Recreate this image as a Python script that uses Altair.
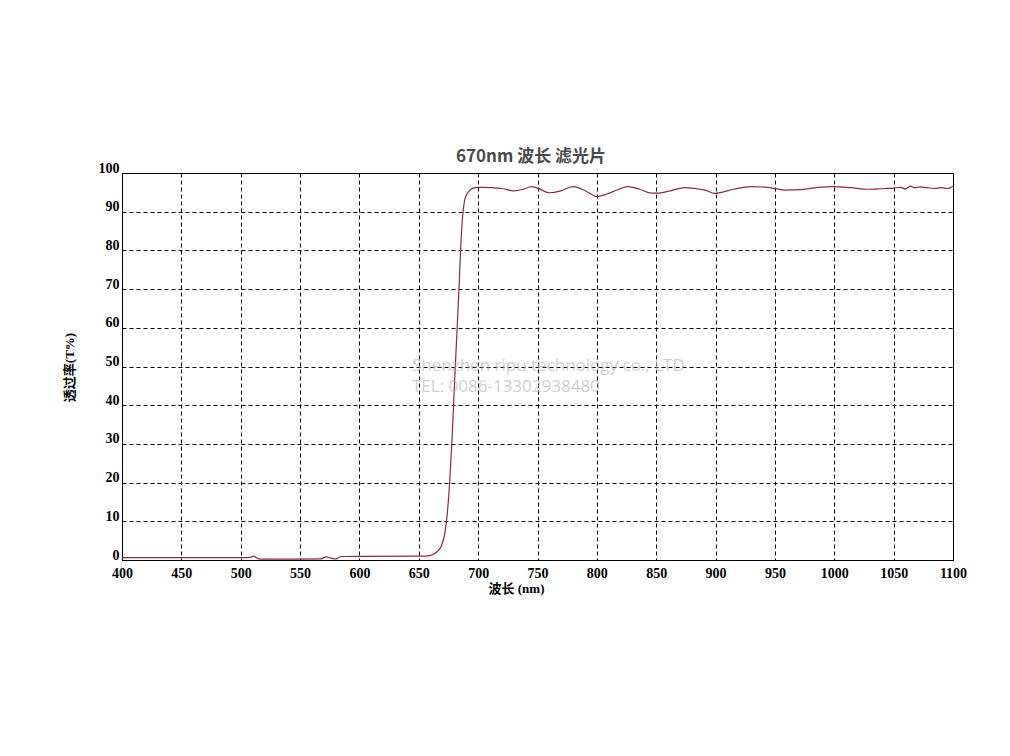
import altair as alt
import pandas as pd

# ---- data ----
wavelength = [400, 450, 500, 508, 511, 515, 520, 550, 568, 572, 576, 580, 585, 600,
              650, 655, 660, 663, 666, 669, 672, 674, 676, 678, 680, 682, 684, 685.5,
              687, 688.5, 690, 692, 694, 696, 700, 705, 712, 720, 730, 738, 745, 750,
              760, 769, 780, 791, 800, 808, 817, 826, 836, 846, 850, 862, 874, 887,
              892, 899, 915, 930, 944, 958, 972, 986, 1000, 1014, 1028, 1042, 1050,
              1056, 1060, 1064, 1068, 1072, 1078, 1084, 1090, 1095, 1097, 1100]
transmittance = [0.6, 0.6, 0.6, 0.7, 1.0, 0.3, 0.25, 0.25, 0.3, 0.8, 0.5, 0.3, 0.9, 0.95,
                 1.0, 1.0, 1.2, 1.6, 2.3, 3.6, 7.0, 12.0, 20.0, 31.0, 45.0, 58.0, 71.0, 82.0,
                 89.0, 92.8, 94.2, 95.2, 95.8, 96.1, 96.3, 96.3, 96.2, 96.0, 95.4, 95.8, 96.5, 96.1,
                 94.9, 95.3, 96.5, 95.3, 93.9, 94.5, 95.6, 96.5, 95.8, 94.8, 94.8, 95.4, 96.2, 95.8,
                 95.5, 94.75, 95.8, 96.5, 96.3, 95.6, 95.7, 96.3, 96.5, 96.2, 95.8, 96.0, 96.1,
                 96.3, 95.9, 96.6, 96.2, 96.4, 96.2, 96.0, 96.2, 96.0, 96.1, 96.6]
x_ticks = [400, 450, 500, 550, 600, 650, 700, 750, 800, 850, 900, 950, 1000, 1050, 1100]
y_ticks = [0, 10, 20, 30, 40, 50, 60, 70, 80, 90, 100]
chart_title = "670nm 波长 滤光片"
x_title = "波长 (nm)"
y_title = "透过率(T%)"
watermark = ["Shenzhen ripu technology co., LTD", "TEL: 0086-13302938480"]

W, H = 831, 387
SERIF = "'Liberation Serif', 'Times New Roman', serif"
SERIF_CJK = "'Liberation Serif', 'Noto Sans CJK SC', serif"

df = pd.DataFrame({"wl": wavelength, "t": transmittance})

line = alt.Chart(df).mark_line(
    color="#8B2A3A", strokeWidth=1.2, interpolate="monotone", clip=True
).encode(
    x=alt.X("wl:Q",
            scale=alt.Scale(domain=[400, 1100], nice=False, zero=False),
            axis=alt.Axis(values=x_ticks, format="d", title=x_title,
                          titleX=394, titleY=28, titleBaseline="middle",
                          titleAlign="center", titleAnchor=None,
                          labelPadding=6, labelBaseline="top", labelFlush=False,
                          labelAlign="center")),
    y=alt.Y("t:Q",
            scale=alt.Scale(domain=[0, 100], nice=False),
            axis=alt.Axis(values=y_ticks, format="d", title=y_title,
                          titleX=-53, titleY=H / 2 + 0.5, titleAngle=-90,
                          titleBaseline="middle", titleAlign="center", titleAnchor=None,
                          labelPadding=3, labelBaseline="alphabetic", labelOffset=-1,
                          labelAlign="right", labelFlush=False)),
)

wm_df = pd.DataFrame({"txt": watermark, "row": [0, 1]})
wm = alt.Chart(wm_df).mark_text(
    align="left", baseline="alphabetic", font="Open Sans", fontSize=17,
    color="#b8b8b8", opacity=0.65
).encode(
    text="txt:N",
    x=alt.value(412 - 122),
    y=alt.Y("row:Q", scale=alt.Scale(domain=[0, 1], range=[371 - 173, 392 - 173]), axis=None),
)

title_df = pd.DataFrame({"txt": [chart_title]})
title = alt.Chart(title_df).mark_text(
    align="center", baseline="alphabetic", font="Noto Sans CJK SC", fontWeight="bold",
    fontSize=17, color="#4a4a4a"
).encode(
    text="txt:N",
    x=alt.value(531 - 122),
    y=alt.value(162 - 173),
)

chart = alt.layer(line, wm, title).resolve_scale(y="independent").properties(
    width=W, height=H,
    autosize=alt.AutoSizeParams(type="none"),
    padding={"left": 114, "top": 165, "right": 49, "bottom": 180},
).configure_view(
    stroke="black", strokeWidth=1
).configure_axis(
    grid=True, gridColor="black", gridDash=[4, 3], gridWidth=1, gridOpacity=1,
    domainColor="black", domainWidth=1, ticks=False,
    labelFont=SERIF, labelFontWeight="bold", labelFontSize=14,
    labelColor="black", titleFont=SERIF_CJK, titleFontWeight="bold",
    titleFontSize=13, titleColor="black",
)

chart.save("out.html", embed_options={"renderer": "svg", "actions": False})
